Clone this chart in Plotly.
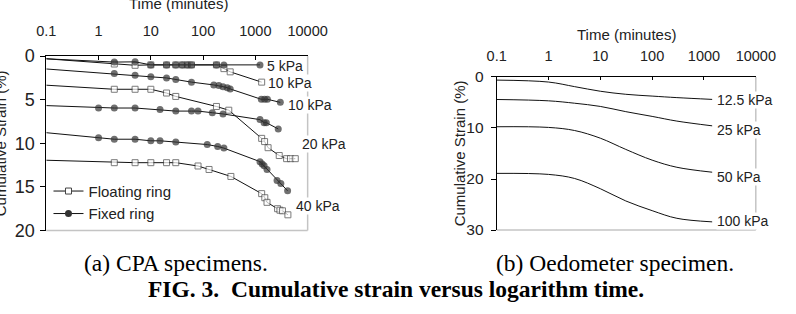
import math
import plotly.graph_objects as go

# ---------------- data: (a) CPA specimens ----------------
# time in minutes, cumulative strain in %
fix5_t = [0.1, 2, 5, 10, 20, 30, 40, 50, 60, 180, 250, 1225]
fix5_s = [0.3, 0.68, 0.65, 1.0, 1.0, 1.0, 1.0, 1.0, 1.0, 1.0, 1.0, 1.0]

flo10_t = [0.1, 2, 5, 10, 20, 30, 40, 50, 60, 180, 250, 330, 1320]
flo10_s = [0.3, 0.9, 1.05, 1.0, 1.0, 1.0, 1.0, 1.0, 1.0, 1.0, 1.43, 1.8, 2.98]

fix10_t = [0.1, 2, 5, 10, 20, 30, 60, 160, 200, 240, 290, 330, 1300, 1500, 1700, 3000]
fix10_s = [1.47, 2.0, 2.19, 2.37, 2.5, 2.69, 2.98, 3.3, 3.37, 3.5, 3.62, 3.76, 4.95, 4.95, 4.95, 5.3]

flo20_t = [0.1, 2, 5, 10, 20, 30, 180, 310, 1320, 1500, 1750, 2860, 3960, 4700, 5800]
flo20_s = [3.33, 3.8, 3.8, 3.8, 4.23, 4.62, 5.77, 6.2, 9.43, 9.8, 10.5, 11.4, 11.76, 11.76, 11.76]

fix20_t = [0.1, 1, 2, 5, 15, 30, 60, 80, 150, 240, 1225, 1470, 1620, 2740]
fix20_s = [5.67, 5.95, 5.95, 5.95, 6.13, 6.3, 6.3, 6.3, 6.49, 6.63, 7.28, 7.63, 7.63, 8.35]

fix40_t = [0.1, 1, 2, 5, 10, 15, 30, 120, 190, 250, 1225, 1350, 1470, 1670, 2600, 3070, 4140]
fix40_s = [8.78, 9.35, 9.53, 9.53, 9.71, 9.71, 9.86, 10.14, 10.36, 10.55, 12.1, 12.37, 12.58, 13.0, 14.27, 14.62, 15.45]

flo40_t = [0.1, 2, 5, 10, 20, 30, 80, 130, 340, 1320, 1515, 1670, 2660, 2950, 3300, 4190]
flo40_s = [11.94, 12.22, 12.22, 12.22, 12.22, 12.22, 12.6, 13.0, 13.8, 15.77, 16.24, 16.77, 17.5, 17.67, 17.74, 18.2]

cpa_labels = ["5 kPa", "10 kPa", "10 kPa", "20 kPa", "40 kPa"]

# ---------------- data: (b) Oedometer specimen ----------------
oed_t = [0.1, 1, 3.2, 10, 31, 100, 300, 1440]
oed_12_5 = [0.62, 1.0, 1.9, 2.8, 3.4, 3.75, 4.05, 4.4]
oed_25 = [4.42, 4.68, 5.15, 5.78, 6.8, 7.73, 8.65, 9.58]
oed_50 = [9.76, 9.89, 10.5, 12.0, 14.2, 16.3, 17.7, 18.67]
oed_100 = [18.9, 19.1, 19.9, 21.9, 24.3, 26.2, 27.7, 28.4]
oed_labels = ["12.5 kPa", "25 kPa", "50 kPa", "100 kPa"]

x_tickvals = [0.1, 1, 10, 100, 1000, 10000]
x_ticktext = ["0.1", "1", "10", "100", "1000", "10000"]

# ---------------- styles ----------------
SANS = "Liberation Sans, Arial, sans-serif"
SERIF = "Liberation Serif, Times New Roman, serif"
TXT = "#222222"
GRAY = "#c4c4c4"
CIRC = dict(symbol="circle", size=7, color="#333333", line=dict(width=0))
SQR = dict(symbol="square", size=6, color="white", line=dict(width=1, color="#444444"))
LINE = dict(color="#111111", width=1)

fig = go.Figure()


def add_series(t, s, kind):
    style = dict(CIRC if kind == "fix" else SQR)
    sizes = [0] + [style["size"]] * (len(t) - 1)
    style["size"] = sizes
    fig.add_trace(go.Scatter(x=t, y=s, mode="lines+markers", line=LINE, marker=style,
                             showlegend=False, xaxis="x", yaxis="y", hoverinfo="skip"))


# floating-ring series first so fixed-ring circles sit on top where they coincide
add_series(flo10_t, flo10_s, "flo")
add_series(flo20_t, flo20_s, "flo")
add_series(flo40_t, flo40_s, "flo")
add_series(fix5_t, fix5_s, "fix")
add_series(fix10_t, fix10_s, "fix")
add_series(fix20_t, fix20_s, "fix")
add_series(fix40_t, fix40_s, "fix")

# legend entries
fig.add_trace(go.Scatter(x=[None], y=[None], mode="lines+markers", name="Floating ring",
                         line=LINE, marker=SQR, xaxis="x", yaxis="y"))
fig.add_trace(go.Scatter(x=[None], y=[None], mode="lines+markers", name="Fixed ring",
                         line=LINE, marker=CIRC, xaxis="x", yaxis="y"))

for s in [oed_12_5, oed_25, oed_50, oed_100]:
    fig.add_trace(go.Scatter(x=oed_t, y=s, mode="lines", line=dict(color="#111111", width=1, shape="spline"),
                             showlegend=False, xaxis="x2", yaxis="y2", hoverinfo="skip"))

W, H = 796, 314
L1, R1, T1, B1 = 37.7, 309.3, 49.3, 235.5
L2, R2, T2, B2 = 505.7, 775.0, 71.5, 235.0


def px(x):
    return x / W


def py(y):
    return 1 - y / H


def xaxis_main(dom, standoff):
    d = dict(domain=dom, type="log", range=[-1, 4], side="top",
             tickmode="array", tickvals=x_tickvals, ticktext=x_ticktext,
             ticks="inside", ticklen=3.5, tickcolor="black", tickwidth=1,
             showline=True, linecolor="black", linewidth=1, showgrid=False, zeroline=False,
             tickfont=dict(family=SANS, size=14.5, color=TXT), ticklabelstandoff=standoff)
    return d


def xaxis_minor(over, anch):
    return dict(overlaying=over, anchor=anch, side="top", type="log", range=[-1, 4],
                tickmode="linear", tick0=0, dtick="D1", ticks="outside", ticklen=3.5,
                tickcolor="black", tickwidth=1, showticklabels=False, showline=False,
                showgrid=False, zeroline=False)


fig.update_layout(
    width=W, height=H, margin=dict(l=0, r=0, t=0, b=0),
    paper_bgcolor="white", plot_bgcolor="white",
    xaxis=dict(**xaxis_main([px(L1), px(R1)], 13), anchor="y"),
    yaxis=dict(domain=[py(B1), py(T1)], range=[20, 0], anchor="x", tickvals=[0, 5, 10, 15, 20],
               ticks="outside", ticklen=5, tickcolor="black", showline=True, linecolor="black",
               linewidth=1, showgrid=False, zeroline=False,
               tickfont=dict(family=SANS, size=18, color=TXT), ticklabelstandoff=2),
    xaxis2=dict(**xaxis_main([px(L2), px(R2)], 9), anchor="y2"),
    yaxis2=dict(domain=[py(B2), py(T2)], range=[30, 0], anchor="x2", tickvals=[0, 10, 20, 30],
                ticks="outside", ticklen=5, tickcolor="black", showline=True, linecolor="black",
                linewidth=1, showgrid=False, zeroline=False,
                tickfont=dict(family=SANS, size=15.5, color=TXT), ticklabelstandoff=4),
    xaxis3=xaxis_minor("x", "y"),
    xaxis4=xaxis_minor("x2", "y2"),
    legend=dict(x=px(40), y=py(176), xanchor="left", yanchor="top", bgcolor="rgba(0,0,0,0)",
                font=dict(family=SANS, size=15, color=TXT), itemwidth=30, tracegroupgap=0),
    font=dict(family=SANS, color=TXT),
)

shapes = []
for xr, yr in [("x domain", "y domain"), ("x2 domain", "y2 domain")]:
    shapes.append(dict(type="line", xref=xr, yref=yr, x0=1, x1=1, y0=0, y1=1, layer="below",
                       line=dict(color=GRAY, width=1.5)))
    shapes.append(dict(type="line", xref=xr, yref=yr, x0=0, x1=1, y0=0, y1=0, layer="below",
                       line=dict(color=GRAY, width=1.5)))
fig.update_layout(shapes=shapes)

ann = []
# series labels (a)
cpa_pos = [(266, 60), (266.7, 78.3), (287.3, 101), (302.3, 142.7), (295.7, 209.3)]
for txt, (xp, yp) in zip(cpa_labels, cpa_pos):
    ann.append(dict(text=txt, xref="x", yref="y", x=(xp - L1) / 54.3 - 1, y=(yp - T1) / 9.3,
                    xanchor="left", yanchor="middle", showarrow=False, bgcolor="white",
                    borderpad=0, font=dict(family=SANS, size=14, color=TXT)))
oed_pos = [(734, 96), (734, 128.7), (734, 178.3), (734, 225.3)]
for txt, (xp, yp) in zip(oed_labels, oed_pos):
    ann.append(dict(text=txt, xref="x2", yref="y2", x=(xp - L2) / 53.9 - 1, y=(yp - T2) / 5.46,
                    xanchor="left", yanchor="middle", showarrow=False, bgcolor="white",
                    borderpad=0, font=dict(family=SANS, size=14, color=TXT)))

# axis titles
ann.append(dict(text="Time (minutes)", xref="paper", yref="paper", x=px(175), y=py(4),
                xanchor="center", yanchor="bottom", showarrow=False, font=dict(size=15, color=TXT)))
ann.append(dict(text="Time (minutes)", xref="paper", yref="paper", x=px(641), y=py(26.7),
                xanchor="center", yanchor="middle", showarrow=False, font=dict(size=15, color=TXT)))
ann.append(dict(text="Cumulative Strain (%)", xref="paper", yref="paper", x=px(-9), y=py(142),
                xanchor="center", yanchor="middle", textangle=-90, showarrow=False,
                font=dict(size=15, color=TXT)))
ann.append(dict(text="Cumulative Strain (%)", xref="paper", yref="paper", x=px(466.7), y=py(153),
                xanchor="center", yanchor="middle", textangle=-90, showarrow=False,
                font=dict(size=15, color=TXT)))

# captions
ann.append(dict(text="(a) CPA specimens.", xref="paper", yref="paper", x=px(172), y=py(270),
                xanchor="center", yanchor="middle", showarrow=False,
                font=dict(family=SERIF, size=23.5, color="black")))
ann.append(dict(text="(b) Oedometer specimen.", xref="paper", yref="paper", x=px(629), y=py(270),
                xanchor="center", yanchor="middle", showarrow=False,
                font=dict(family=SERIF, size=23.5, color="black")))
ann.append(dict(text="<b>FIG. 3.\u00a0\u00a0Cumulative strain versus logarithm time.</b>", xref="paper",
                yref="paper", x=px(401), y=py(298), xanchor="center", yanchor="middle",
                showarrow=False, font=dict(family=SERIF, size=23.5, color="black")))

fig.update_layout(annotations=ann)
fig.write_html("out.html")
